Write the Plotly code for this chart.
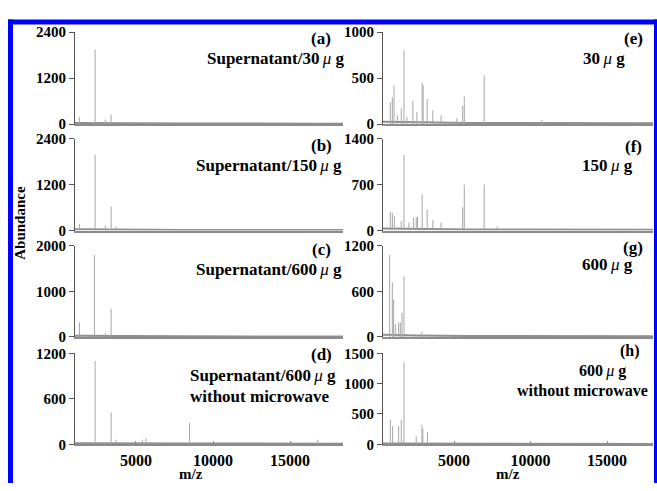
import plotly.graph_objects as go

W, H = 657, 491

# ---------------- data ----------------
# Left column: supernatant spectra
a_mz = [1325, 2345, 3015, 3380]
a_ab = [180, 1950, 120, 250]
b_mz = [1325, 2345, 3015, 3385, 3710]
b_ab = [175, 1980, 130, 630, 100]
c_mz = [1325, 1430, 2300, 3015, 3385]
c_ab = [320, 60, 1800, 85, 620]
d_mz = [2345, 3385, 3710, 5420, 5640, 8475, 16800]
d_ab = [1100, 420, 60, 60, 80, 280, 60]

# Right column
e_mz = [840, 970, 1080, 1300, 1555, 1730, 1925, 2315, 2575, 2920, 2980, 3245, 3615, 4155, 5175, 5565, 5670, 6970, 10740]
e_ab = [240, 290, 420, 96, 170, 800, 80, 255, 130, 450, 420, 273, 150, 96, 60, 200, 300, 530, 45]
f_mz = [840, 970, 1100, 1380, 1555, 1730, 2055, 2355, 2530, 2615, 2920, 3245, 3615, 4155, 5565, 5670, 6970, 7815, 10800]
f_ab = [290, 270, 220, 50, 147, 1150, 120, 196, 196, 206, 550, 320, 157, 123, 354, 700, 700, 60, 30]
g_mz = [795, 970, 1055, 1165, 1380, 1490, 1600, 1730, 2900]
g_ab = [1080, 720, 490, 170, 190, 190, 320, 800, 64]
h_mz = [840, 990, 1380, 1555, 1730, 2530, 2900, 2965, 3265, 4915]
h_ab = [400, 300, 300, 400, 1350, 130, 320, 258, 200, 30]

# baseline (noise level) read at a few m/z positions
base_left_mz = [1040, 3000, 8000, 18440]
base_a = [30, 25, 15, 12]
base_b = [30, 25, 15, 12]
base_c = [25, 20, 12, 10]
base_d = [15, 12, 10, 8]
base_right_mz = [360, 2500, 6000, 18000]
base_e = [25, 20, 12, 8]
base_f = [30, 25, 15, 10]
base_g = [28, 18, 12, 10]
base_h = [12, 10, 8, 6]

y_top = {"a": 2400, "b": 2400, "c": 2000, "d": 1200,
         "e": 1000, "f": 1400, "g": 1200, "h": 1500}
y_ticks = {"a": [0, 1200, 2400], "b": [0, 1200, 2400], "c": [0, 1000, 2000],
           "d": [0, 600, 1200], "e": [0, 500, 1000], "f": [0, 700, 1400],
           "g": [0, 600, 1200], "h": [0, 500, 1000, 1500]}
x_ticks = [5000, 10000, 15000]
x_tick_text = ["5000", "10000", "15000"]
left_range = [1040, 18440]
right_range = [360, 18000]

# ---------------- layout geometry (pixels) ----------------
left_px = (75, 343)
right_px = (383, 653)
rows_px = [(25, 120), (135, 230), (246, 340), (357, 451)]

def fx(px):
    return px / W

def fy(py):
    return 1 - py / H

FONT = "Liberation Serif"
SPEC_COLOR = "#a6a6a6"
BASE_COLOR = "#8f8f8f"

fig = go.Figure()

panels = [
    ("a", a_mz, a_ab, base_left_mz, base_a, 0, 0),
    ("b", b_mz, b_ab, base_left_mz, base_b, 0, 1),
    ("c", c_mz, c_ab, base_left_mz, base_c, 0, 2),
    ("d", d_mz, d_ab, base_left_mz, base_d, 0, 3),
    ("e", e_mz, e_ab, base_right_mz, base_e, 1, 0),
    ("f", f_mz, f_ab, base_right_mz, base_f, 1, 1),
    ("g", g_mz, g_ab, base_right_mz, base_g, 1, 2),
    ("h", h_mz, h_ab, base_right_mz, base_h, 1, 3),
]

layout = {}
for i, (key, mz, ab, bmz, bab, col, row) in enumerate(panels):
    n = i + 1
    xa = "x" if n == 1 else f"x{n}"
    ya = "y" if n == 1 else f"y{n}"
    xs, ys = [], []
    for m, v in zip(mz, ab):
        xs += [m, m, None]
        ys += [0, v, None]
    fig.add_trace(go.Scatter(x=bmz, y=bab, mode="lines", xaxis=xa, yaxis=ya,
                             line=dict(color=BASE_COLOR, width=2), hoverinfo="skip",
                             showlegend=False))
    fig.add_trace(go.Scatter(x=xs, y=ys, mode="lines", xaxis=xa, yaxis=ya,
                             line=dict(color=SPEC_COLOR, width=1), showlegend=False))
    cpx = left_px if col == 0 else right_px
    rpx = rows_px[row]
    bottom = row == 3
    xkey = "xaxis" if n == 1 else f"xaxis{n}"
    ykey = "yaxis" if n == 1 else f"yaxis{n}"
    layout[xkey] = dict(
        domain=[fx(cpx[0]), fx(cpx[1])], anchor=ya,
        range=left_range if col == 0 else right_range,
        showgrid=False, zeroline=False, showline=True, linecolor="#8c8c8c", linewidth=2,
        tickvals=x_ticks if bottom else [], ticktext=x_tick_text if bottom else [],
        ticks="inside" if bottom else "",
        ticklen=3, tickcolor="#8c8c8c", showticklabels=bottom,
        tickfont=dict(family=FONT, size=16, color="black", weight="bold"),
    )
    layout[ykey] = dict(
        domain=[fy(rpx[1]), fy(rpx[0])], anchor=xa,
        range=[0, y_top[key]], showgrid=False, zeroline=False,
        showline=True, linecolor="#555555", linewidth=1,
        tickvals=y_ticks[key], ticks="outside", ticklen=5, tickcolor="#555555",
        tickfont=dict(family=FONT, size=15, color="black", weight="bold"),
    )

fig.update_layout(
    width=W, height=H, margin=dict(l=0, r=0, t=0, b=0),
    paper_bgcolor="white", plot_bgcolor="rgba(0,0,0,0)", showlegend=False,
    **layout,
)

MU = "\u2009<span style='font-weight:normal'><i>μ</i></span> "

def ann(text, px, py, anchor="left", size=17):
    fig.add_annotation(text=text, x=fx(px), y=fy(py), xref="paper", yref="paper",
                       xanchor=anchor, yanchor="middle", showarrow=False,
                       font=dict(family=FONT, size=size, color="black", weight="bold"))

ann("(a)", 321, 32, "center")
ann(f"Supernatant/30{MU}g", 205, 52)
ann("(b)", 321, 142, "center")
ann(f"Supernatant/150{MU}g", 194, 163)
ann("(c)", 321, 250, "center")
ann(f"Supernatant/600{MU}g", 194, 270)
ann("(d)", 321, 358, "center")
ann(f"Supernatant/600{MU}g", 188, 380)
ann("without microwave", 188, 402)

ann("(e)", 633, 32, "center")
ann(f"30{MU}g", 581, 52)
ann("(f)", 633, 143, "center")
ann(f"150{MU}g", 580, 163)
ann("(g)", 633, 248, "center")
ann(f"600{MU}g", 580, 265)
ann("(h)", 630, 355, "center", 16)
ann(f"600{MU}g", 577, 375, "left", 16)
ann("without microwave", 515, 395, "left", 16)

ann("m/z", 191, 482, "center", 15)
ann("m/z", 508, 482, "center", 15)
fig.add_annotation(text="Abundance", x=fx(20), y=fy(222), xref="paper", yref="paper",
                   textangle=-90, showarrow=False, xanchor="center", yanchor="middle",
                   font=dict(family=FONT, size=15, color="black", weight="bold"))

# blue frame
BLUE = "#0000ff"
for x0, y0, x1, y1 in [(8, 12, 657, 17), (8, 12, 13, 491), (654, 12, 657, 491)]:
    fig.add_shape(type="rect", xref="paper", yref="paper",
                  x0=fx(x0), x1=fx(x1), y0=fy(y1), y1=fy(y0),
                  fillcolor=BLUE, line=dict(width=0), layer="above")

fig.write_html("out.html", config={"displayModeBar": False},
               post_script="document.body.style.margin='0';document.body.style.overflow='hidden';")
